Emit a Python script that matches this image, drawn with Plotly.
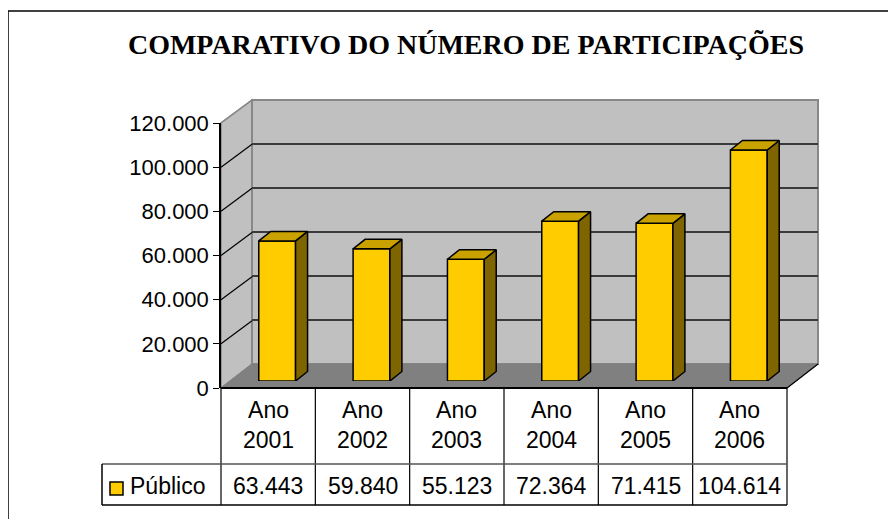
import plotly.graph_objects as go

# ---------------- data ----------------
categories = ["Ano 2001", "Ano 2002", "Ano 2003", "Ano 2004", "Ano 2005", "Ano 2006"]
publico = [63443, 59840, 55123, 72364, 71415, 104614]
series_name = "Público"
y_ticks = [0, 20000, 40000, 60000, 80000, 100000, 120000]
chart_title = "COMPARATIVO DO NÚMERO DE PARTICIPAÇÕES"

# ---------------- geometry (pixels of the page) ----------------
OFF = 8  # page body margin
W, H = 896 - OFF, 519 - OFF
def px(x): return (x - OFF) / W
def py(y): return 1 - (y - OFF) / H

YMAX = 120000
FRONT_L, FRONT_R = 221, 787
FRONT_BOT, FRONT_TOP = 388, 123
DEPTH_X, DEPTH_Y = 31, 24
BAR_SHIFT_X, BAR_SHIFT_Y = 9, 7
BAR_DX_PX, BAR_DY_PX = 12, 9.5
BAR_W = 0.39
TABLE_L, ROW1_BOT, ROW2_BOT = 102, 464, 505

n = len(categories)
xs = list(range(n))
cat_w_px = (FRONT_R - FRONT_L) / n
val_per_px = YMAX / (FRONT_BOT - FRONT_TOP)
dx = BAR_DX_PX / cat_w_px
dy = BAR_DY_PX * val_per_px

FRONT_COL = "#FFCC00"
TOP_COL = "#C9A200"
SIDE_COL = "#7F6500"
WALL = "#C0C0C0"
FLOOR = "#808080"

fig = go.Figure()
fig.add_trace(go.Scatter(x=[None], y=[None], xaxis="x", yaxis="y",
                         showlegend=False, hoverinfo="skip"))
fig.add_trace(go.Scatter(x=[None], y=[None], xaxis="x3", yaxis="y3",
                         showlegend=False, hoverinfo="skip"))
fig.add_trace(go.Bar(x=xs, y=publico, width=BAR_W, name=series_name,
                     marker=dict(color=FRONT_COL, line=dict(color="black", width=1.5)),
                     xaxis="x2", yaxis="y2", showlegend=False))
for i, v in zip(xs, publico):
    l, r = i - BAR_W / 2, i + BAR_W / 2
    fig.add_trace(go.Scatter(x=[r, r + dx, r + dx, r, r], y=[0, dy, v + dy, v, 0],
                             fill="toself", fillcolor=SIDE_COL, mode="lines",
                             line=dict(color="black", width=1.5),
                             xaxis="x2", yaxis="y2", showlegend=False, hoverinfo="skip"))
    fig.add_trace(go.Scatter(x=[l, l + dx, r + dx, r, l], y=[v, v + dy, v + dy, v, v],
                             fill="toself", fillcolor=TOP_COL, mode="lines",
                             line=dict(color="black", width=1.5),
                             xaxis="x2", yaxis="y2", showlegend=False, hoverinfo="skip"))

shapes = []
def line(x0, y0, x1, y1, color="black", width=1.5, layer="above"):
    shapes.append(dict(type="line", xref="paper", yref="paper",
                       x0=px(x0), y0=py(y0), x1=px(x1), y1=py(y1),
                       line=dict(color=color, width=width), layer=layer))

def poly(pts, fill, lc, lw=1.5):
    d = "M " + " L ".join(f"{px(a)},{py(b)}" for a, b in pts) + " Z"
    shapes.append(dict(type="path", xref="paper", yref="paper", path=d,
                       fillcolor=fill, line=dict(color=lc, width=lw), layer="below"))

BACK_L, BACK_R = FRONT_L + DEPTH_X, FRONT_R + DEPTH_X
BACK_BOT, BACK_TOP = FRONT_BOT - DEPTH_Y, FRONT_TOP - DEPTH_Y + 1

# outer chart border (only top and left edges are in view)
line(8, 11, 896, 11, "black", 1.5, "below")
line(8, 11, 8, 519, "black", 1.5, "below")
# walls and floor
poly([(FRONT_L, FRONT_BOT), (FRONT_L, FRONT_TOP), (BACK_L, BACK_TOP), (BACK_L, BACK_BOT)], WALL, "#888888", 1.5)
poly([(BACK_L, BACK_BOT), (BACK_L, BACK_TOP), (BACK_R, BACK_TOP), (BACK_R, BACK_BOT)], WALL, "#888888", 2)
poly([(FRONT_L, FRONT_BOT), (BACK_L, BACK_BOT), (BACK_R, BACK_BOT), (FRONT_R, FRONT_BOT)], FLOOR, FLOOR, 1)
line(FRONT_R, FRONT_BOT, BACK_R, BACK_BOT, "black", 1.2, "below")
for t in y_ticks[1:]:
    yf = FRONT_BOT - t / val_per_px
    col = "#888888" if t == y_ticks[-1] else "black"
    line(FRONT_L, yf, BACK_L, yf - DEPTH_Y + 1, col, 1.2, "below")

# data table
line(FRONT_L, FRONT_BOT, FRONT_R, FRONT_BOT, "black", 2)
for k in range(n + 1):
    xk = FRONT_L + k * cat_w_px
    line(xk, FRONT_BOT, xk, ROW2_BOT, "black", 1.2)
line(TABLE_L, ROW1_BOT, FRONT_R, ROW1_BOT, "#555555", 1.5)
line(TABLE_L, ROW2_BOT, FRONT_R, ROW2_BOT, "black", 1.5)
line(TABLE_L, ROW1_BOT, TABLE_L, ROW2_BOT, "black", 1.5)
shapes.append(dict(type="rect", xref="paper", yref="paper", x0=px(110), x1=px(123),
                   y0=py(495), y1=py(482), fillcolor=FRONT_COL,
                   line=dict(color="black", width=1.5)))

FONT = "Liberation Sans, Arial, sans-serif"
annotations = []
for i, (c, v) in enumerate(zip(categories, publico)):
    annotations.append(dict(xref="x3", yref="paper", x=i, y=py(425), text=c.replace(" ", "<br>"),
                            showarrow=False, xanchor="center", yanchor="middle",
                            font=dict(family=FONT, size=23, color="black")))
    annotations.append(dict(xref="x3", yref="paper", x=i, y=py(486),
                            text=f"{v:,}".replace(",", "."),
                            showarrow=False, xanchor="center", yanchor="middle",
                            font=dict(family=FONT, size=23, color="black")))
annotations.append(dict(xref="paper", yref="paper", x=px(128), y=py(486), text=series_name,
                        showarrow=False, xanchor="left", yanchor="middle",
                        font=dict(family=FONT, size=23, color="black")))

fig.update_layout(
    template="none",
    width=W, height=H, margin=dict(l=0, r=0, t=0, b=0, pad=0, autoexpand=False),
    paper_bgcolor="white", plot_bgcolor="rgba(0,0,0,0)",
    separators=",.",
    title=dict(text=chart_title, x=px(466), y=py(44), xanchor="center", yanchor="middle",
               automargin=False,
               font=dict(family="Liberation Serif, Times New Roman, serif", size=28,
                         color="black", weight="bold")),
    showlegend=False,
    xaxis=dict(domain=[px(BACK_L), px(BACK_R)], range=[0, 1], visible=False, anchor="y",
               automargin=False),
    yaxis=dict(domain=[py(BACK_BOT), py(BACK_TOP)], range=[0, YMAX], anchor="x",
               tickvals=y_ticks, showgrid=True, gridcolor="#3a3a3a", gridwidth=1.5,
               showticklabels=False, ticks="", zeroline=False, showline=False,
               automargin=False),
    xaxis2=dict(domain=[px(FRONT_L + BAR_SHIFT_X), px(FRONT_R + BAR_SHIFT_X)],
                range=[-0.5, n - 0.5], visible=False, anchor="y2", automargin=False),
    yaxis2=dict(domain=[py(FRONT_BOT - BAR_SHIFT_Y), py(FRONT_TOP - BAR_SHIFT_Y)],
                range=[0, YMAX], visible=False, anchor="x2", automargin=False),
    xaxis3=dict(domain=[px(FRONT_L), px(FRONT_R)], range=[-0.5, n - 0.5],
                visible=False, anchor="y3", automargin=False),
    yaxis3=dict(domain=[py(FRONT_BOT), py(FRONT_TOP)], range=[0, YMAX], anchor="x3",
                tickvals=y_ticks, tickformat=",d", showgrid=False, zeroline=False,
                showline=True, linecolor="black", linewidth=1.5,
                ticks="outside", ticklen=6, tickcolor="black", tickwidth=1.2,
                tickfont=dict(family=FONT, size=22, color="black"), automargin=False),
    shapes=shapes, annotations=annotations,
)

fig.write_html("out.html")
